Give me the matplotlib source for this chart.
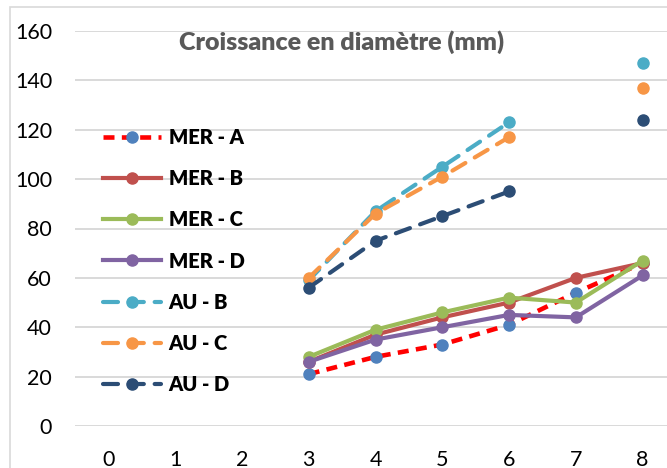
import numpy as np
import matplotlib
matplotlib.use('Agg')
import matplotlib.pyplot as plt
from matplotlib.patches import Rectangle

plt.rcParams['font.family'] = ['Lato', 'DejaVu Sans']

ages = [3, 4, 5, 6, 7, 8]
mer_a = [21, 28, 33, 41, 54, 66]
mer_b = [26, 37, 44, 50, 60, 66]
mer_c = [28, 39, 46, 52, 50, 67]
mer_d = [26, 35, 40, 45, 44, 61]
au_b = [59, 87, 105, 123, np.nan, 147]
au_c = [60, 86, 101, 117, np.nan, 137]
au_d = [56, 75, 85, 95, np.nan, 124]
x_ticks = [0, 1, 2, 3, 4, 5, 6, 7, 8]

W, H = 667, 468
fig = plt.figure(figsize=(W / 100, H / 100), dpi=100)
fig.patches.append(Rectangle((10 / W, -0.1), 1.2, 1 - 7 / H + 0.1, transform=fig.transFigure,
                             fill=False, edgecolor='#D9D9D9', linewidth=1.2))

ax = fig.add_axes([75 / W, 1 - 426 / H, (676 - 75) / W, (426 - 31) / H])

lw = 3.0
ms = 8
ax.plot(ages, mer_a, color='#FF0000', linestyle=(0, (2.4, 1.6)), linewidth=3.3,
        marker='o', markersize=ms, markerfacecolor='#4F81BD', markeredgecolor='#4F81BD',
        label='MER - A', zorder=3)
ax.plot(ages, mer_b, color='#C0504D', linewidth=lw, marker='o', markersize=ms, label='MER - B', zorder=3)
ax.plot(ages, mer_c, color='#9BBB59', linewidth=lw, marker='o', markersize=ms, label='MER - C', zorder=3)
ax.plot(ages, mer_d, color='#8064A2', linewidth=lw, marker='o', markersize=ms, label='MER - D', zorder=3)
dash = (0, (3.6, 2.6))
ax.plot(ages, au_b, color='#4BACC6', linewidth=lw, linestyle=dash, marker='o', markersize=ms,
        dash_capstyle='round', label='AU - B', zorder=3)
ax.plot(ages, au_c, color='#F79646', linewidth=lw, linestyle=dash, marker='o', markersize=ms,
        dash_capstyle='round', label='AU - C', zorder=3)
ax.plot(ages, au_d, color='#2C4D75', linewidth=lw, linestyle=dash, marker='o', markersize=ms,
        dash_capstyle='round', label='AU - D', zorder=3)

ax.set_xlim(-0.5, 8.5)
ax.set_ylim(0, 160)
ax.set_xticks(x_ticks)
ax.set_yticks(np.arange(0, 161, 20))
ax.tick_params(length=0, labelsize=15.5, colors='black')
ax.tick_params(axis='y', pad=16.5)
ax.tick_params(axis='x', pad=17)
ax.grid(axis='y', color='#D9D9D9', linewidth=1.4)
ax.set_axisbelow(True)
for s in ax.spines.values():
    s.set_visible(False)

ax.text(342 / W, 1 - 42 / H, 'Croissance en diamètre (mm)', transform=fig.transFigure,
        ha='center', va='center', fontsize=18, fontweight='heavy', color='#595959')

leg = ax.legend(loc='upper left', bbox_to_anchor=(95 / W, 1 - 120 / H),
                bbox_transform=fig.transFigure, frameon=False,
                prop={'weight': 'heavy', 'size': 14.5}, handlelength=2.9,
                handletextpad=0.35, labelspacing=1.1, borderaxespad=0)

fig.savefig('out.png', dpi=100)
